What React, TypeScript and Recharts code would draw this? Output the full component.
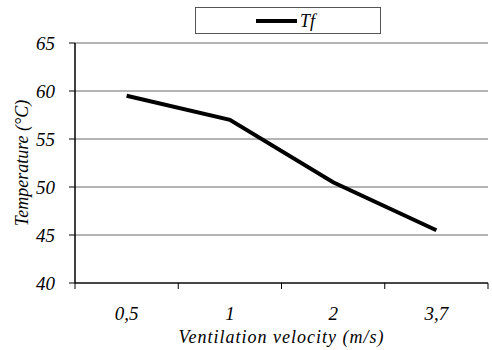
import React from "react";
import { LineChart, Line, XAxis, YAxis, CartesianGrid } from "recharts";

const categories = ["0,5", "1", "2", "3,7"];
const tfValues = [59.5, 57, 50.5, 45.5];
const yTicks = [40, 45, 50, 55, 60, 65];

const data = categories.map((c, i) => ({ velocity: c, Tf: tfValues[i] }));

const W = 492;
const H = 350;
const LEFT = 75;
const RIGHT_MARGIN = 4;
const PLOT_W = W - LEFT - RIGHT_MARGIN;
const BAND = PLOT_W / categories.length;
const FONT = "Times New Roman";
const textStyle = { fontFamily: FONT, fontStyle: "italic", fontSize: 19, fill: "#000" };
const labelStyle = { ...textStyle, fontSize: 18 };

const XTick = (props: any) => {
  const { x, y, payload, index } = props;
  const left = x - BAND / 2;
  return (
    <g>
      <line x1={left} y1={y} x2={left} y2={y + 6} stroke="#000" strokeWidth={1} />
      {index === categories.length - 1 && (
        <line x1={left + BAND} y1={y} x2={left + BAND} y2={y + 6} stroke="#000" strokeWidth={1} />
      )}
      <text x={x} y={y + 37} textAnchor="middle" style={textStyle}>
        {payload.value}
      </text>
    </g>
  );
};

export default function App() {
  return (
    <div style={{ position: "absolute", left: 0, top: 0, width: W, height: H, background: "#fff" }}>
      <LineChart width={W} height={H} data={data} margin={{ top: 43, right: RIGHT_MARGIN, left: 0, bottom: 0 }}>
        <CartesianGrid vertical={false} stroke="#6a6a6a" strokeWidth={1} />
        <XAxis
          dataKey="velocity"
          height={67}
          padding={{ left: BAND / 2, right: BAND / 2 }}
          tickSize={0}
          tickMargin={0}
          tickLine={false}
          axisLine={{ stroke: "#222", strokeWidth: 1.5 }}
          tick={<XTick />}
          interval={0}
          label={{
            value: "Ventilation velocity (m/s)",
            position: "insideBottom",
            offset: 7,
            style: { ...labelStyle, letterSpacing: 1 },
          }}
        />
        <YAxis
          domain={[40, 65]}
          ticks={yTicks}
          width={LEFT}
          tickSize={6}
          tickMargin={14}
          tickLine={{ stroke: "#000" }}
          axisLine={{ stroke: "#000", strokeWidth: 1.5 }}
          tick={textStyle}
          label={{
            value: "Temperature (°C)",
            angle: -90,
            position: "insideLeft",
            offset: 22,
            style: { ...labelStyle, textAnchor: "middle" },
          }}
        />
        <YAxis
          yAxisId="frame"
          orientation="right"
          width={0}
          tick={false}
          tickLine={false}
          axisLine={{ stroke: "#888", strokeWidth: 1.5 }}
        />
        <Line
          type="linear"
          dataKey="Tf"
          stroke="#000"
          strokeWidth={4}
          dot={false}
          isAnimationActive={false}
        />
      </LineChart>
      <div
        style={{
          position: "absolute",
          left: 195,
          top: 7,
          width: 186,
          height: 27,
          boxSizing: "border-box",
          border: "1px solid #555",
          background: "#fff",
        }}
      >
        <svg width={184} height={25} style={{ display: "block" }}>
          <line x1={60} y1={13} x2={101} y2={13} stroke="#000" strokeWidth={4} />
          <text x={104} y={19} style={labelStyle}>
            Tf
          </text>
        </svg>
      </div>
    </div>
  );
}
